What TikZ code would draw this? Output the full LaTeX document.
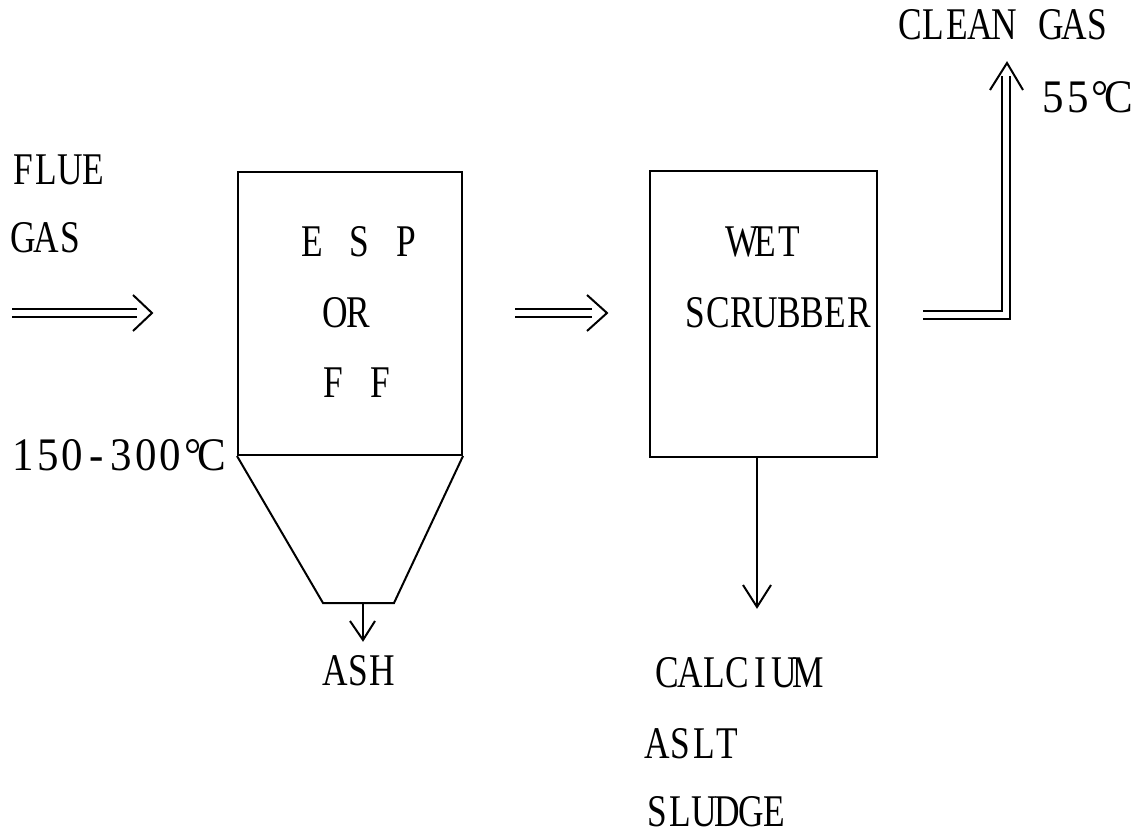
\documentclass[tikz,border=0pt]{standalone}
\usepackage{fontspec}
\setmainfont[FakeStretch=0.78]{Liberation Serif}
\newfontfamily\digfont[FakeStretch=0.92]{Liberation Serif}
\usetikzlibrary{arrows.meta}
\newlength\mpitch
\def\mono#1{\monoloop#1\relax}
\def\monoloop#1{\ifx#1\relax\else\makebox[\mpitch]{#1}\expandafter\monoloop\fi}
\newcommand\degC{\makebox[27pt][l]{\kern1pt°\kern-3pt C}}
\begin{document}
\begin{tikzpicture}[x=0.75pt,y=-0.75pt,
  lbl/.style={inner sep=0pt, anchor=base west, font={\fontsize{34}{40}\selectfont\setlength\mpitch{17.6pt}}},
  big/.style={inner sep=0pt, anchor=base west, font={\digfont\fontsize{35}{42}\selectfont\setlength\mpitch{18.4pt}}},
  vessel/.style={draw, line width=1.5pt, inner sep=0pt},
  pipe/.style={draw, double, line width=1.2pt, double distance=4.8pt},
  chev/.style={draw, line width=1.5pt, line join=miter},
  flow/.style={draw, line width=1.5pt}
]
\useasboundingbox (0,0) rectangle (1140,834);

% vessels
\node[vessel, minimum width=168pt, minimum height=212.25pt] (esp) at (350,313.5) {};
\node[vessel, minimum width=170.25pt, minimum height=214.5pt] (scr) at (763.5,314) {};

% hopper
\coordinate (hbl) at (323,603);
\coordinate (hbr) at (394,603);
\draw[flow] (esp.south west) -- (hbl) -- (hbr) -- (esp.south east);

% labels
\node[lbl] (flue) at (11,185) {\mono{FLUE}};
\node[lbl] (gas) at (11,253) {\mono{GAS}};
\node[big] (tin) at (11,470) {\mono{150-300}\degC};
\node[lbl] (espt) at (300,257) {\mono{E~S~P}};
\node[lbl] (ort) at (323,328) {\mono{OR}};
\node[lbl] (fft) at (321,398) {\mono{F~F}};
\node[lbl] (ash) at (323,685) {\mono{ASH}};
\node[lbl] (wet) at (730,257) {\mono{WET}};
\node[lbl] (scrt) at (683,328) {\mono{SCRUBBER}};
\node[lbl] (cal) at (655,687) {\mono{CALCIUM}};
\node[lbl] (aslt) at (645,758) {\mono{ASLT}};
\node[lbl] (sludge) at (645,826) {\mono{SLUDGE}};
\node[lbl] (clean) at (898,40) {\mono{CLEAN~GAS}};
\node[big] (tout) at (1041,113) {\mono{55}\degC};

% inlet arrow
\coordinate (in0) at (12,313);
\coordinate (in1) at (137,313);
\coordinate (tip1) at (152,313);
\draw[pipe] (in0) -- (in1);
\draw[chev] ([shift={(-19,-18)}]tip1) -- (tip1) -- ([shift={(-19,18)}]tip1);

% ESP -> scrubber arrow
\coordinate (m0) at (515,313);
\coordinate (m1) at (592,313);
\coordinate (tip2) at (607,313);
\draw[pipe] (m0) -- (m1);
\draw[chev] ([shift={(-20,-18)}]tip2) -- (tip2) -- ([shift={(-20,18)}]tip2);

% outlet
\coordinate (o0) at (923,315);
\coordinate (o1) at (1006,315);
\coordinate (o2) at (1006,76);
\coordinate (tip3) at (1007,63);
\draw[pipe] (o0) -- (o1) -- (o2);
\draw[chev] ([shift={(-17,27)}]tip3) -- (tip3) -- ([shift={(16,27)}]tip3);

% ash outlet
\coordinate (ashin) at (363,603);
\coordinate (ashtip) at (363,640);
\draw[flow] (ashin) -- (ashtip);
\draw[chev] ([shift={(-13,-19)}]ashtip) -- (ashtip) -- ([shift={(12,-19)}]ashtip);

% sludge outlet
\coordinate (sltip) at (757,607);
\draw[flow] (scr.south -| sltip) -- (sltip);
\draw[chev] ([shift={(-14,-22)}]sltip) -- (sltip) -- ([shift={(14,-22)}]sltip);
\end{tikzpicture}
\end{document}
